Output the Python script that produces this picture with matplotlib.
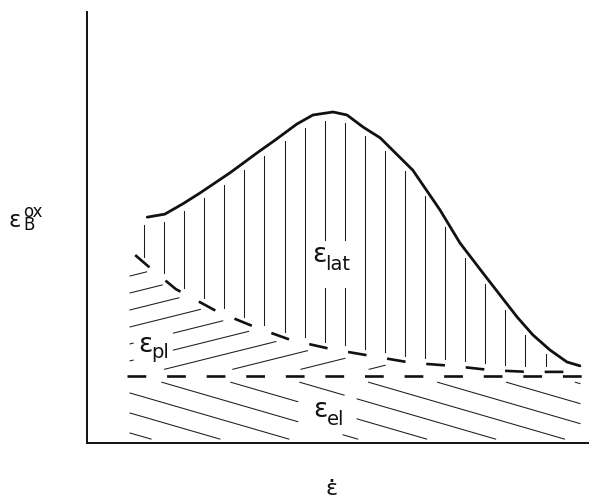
import numpy as np
import matplotlib
matplotlib.use('Agg')
import matplotlib.pyplot as plt

# total oxide strain vs strain rate (schematic units)
rate = [1.20, 1.55, 1.91, 2.25, 2.85, 3.41, 3.75, 4.18, 4.50, 4.90, 5.18, 5.50,
        5.84, 6.49, 7.03, 7.43, 7.89, 8.23, 8.57, 8.88, 9.22, 9.56, 9.82]
eps_total = [5.24, 5.31, 5.55, 5.80, 6.27, 6.75, 7.03, 7.40, 7.61, 7.68, 7.61, 7.33,
             7.08, 6.33, 5.41, 4.64, 3.94, 3.43, 2.92, 2.51, 2.16, 1.88, 1.79]

# elastic + plastic part (lower edge of the lateral growth region)
rate_pl = [0.96, 1.26, 1.77, 2.61, 3.39, 4.06, 4.86, 5.66, 6.47, 7.27, 8.05, 8.78, 9.82]
eps_pl = [4.36, 4.06, 3.57, 3.04, 2.67, 2.39, 2.18, 2.02, 1.86, 1.79, 1.69, 1.65, 1.65]

# elastic part, constant over the rate range
rate_el = [0.79, 9.86]
eps_el = [1.55, 1.55]

plt.rcParams['lines.scale_dashes'] = False
ink = '#111111'
hatch_kw = dict(color='#1c1c1c', lw=0.75, zorder=1)

fig = plt.figure(figsize=(5.89, 4.99), dpi=100)
ax = fig.add_axes([87 / 589, 56 / 499, 502 / 589, 431 / 499])
ax.set_xlim(0, 10)
ax.set_ylim(0, 10)
for side in ['top', 'right']:
    ax.spines[side].set_visible(False)
for side in ['left', 'bottom']:
    ax.spines[side].set_linewidth(1.4)
    ax.spines[side].set_color(ink)
ax.set_xticks([])
ax.set_yticks([])

# hatching is left open around the region labels
label_gaps = [(4.40, 5.50, 3.60, 4.71),
              (0.92, 1.72, 1.81, 2.55),
              (4.20, 5.38, 0.19, 1.11)]


def hatch(x, y):
    x = np.asarray(x, dtype=float)
    y = np.array(y, dtype=float)
    for x0, x1, y0, y1 in label_gaps:
        y[(x > x0) & (x < x1) & (y > y0) & (y < y1)] = np.nan
    ax.plot(x, y, **hatch_kw)


# boundaries
ax.plot(rate, eps_total, color=ink, lw=2.0, solid_capstyle='round', zorder=3)
ax.plot(rate_pl, eps_pl, color=ink, lw=1.9, dashes=(13.5, 15), zorder=3)
ax.plot(rate_el, eps_el, color=ink, lw=1.9, dashes=(13.5, 15), zorder=3)

# vertical hatching for the lateral part
for xv in np.arange(1.135, 9.83, 0.4):
    top = np.interp(xv, rate, eps_total) - 0.19
    bot = np.interp(xv, rate_pl, eps_pl) + 0.14
    if top - bot > 0.1:
        ys = np.linspace(bot, top, 300)
        hatch(np.full_like(ys, xv), ys)

xs = np.linspace(0.857, 9.82, 3000)

# rising hatch for the plastic part
upper = np.interp(xs, rate_pl, eps_pl)
for k in range(-13, 2):
    y = 3.875 + 0.394 * k + 0.29 * (xs - 0.857)
    hatch(xs, np.where((y > eps_el[0] + 0.16) & (y < upper - 0.16), y, np.nan))

# falling hatch for the elastic part
for k in range(-3, 9):
    y = 1.16 + 0.464 * k - 0.338 * (xs - 0.857)
    hatch(xs, np.where((y > 0.09) & (y < eps_el[0] - 0.14), y, np.nan))


def eps_label(x, y, sub='', sup='', size=19, small=14,
              sub_off=(9.5, -5.5), sup_off=(9.5, 7)):
    ax.text(x, y, 'ε', fontsize=size, ha='left', va='baseline', color=ink,
            clip_on=False)
    for txt, off in ((sub, sub_off), (sup, sup_off)):
        if txt:
            ax.annotate(txt, (x, y), xytext=off, textcoords='offset points',
                        fontsize=small, ha='left', va='baseline', color=ink,
                        annotation_clip=False)


# region labels
eps_label(4.48, 4.20, sub='lat')
eps_label(1.02, 2.11, sub='pl', sub_off=(9.5, -4.5))
eps_label(4.50, 0.60, sub='el', sub_off=(10, -6))

# axis symbols
eps_label(-1.57, 5.01, sub='B', sup='ox', size=16.5, small=12,
          sub_off=(10.8, -2.2), sup_off=(10.8, 7.2))
eps_label(4.76, -1.21, size=16)
ax.annotate('.', (4.76, -1.21), xytext=(3.8, 9.4), textcoords='offset points',
            fontsize=18, ha='center', va='baseline', color=ink,
            annotation_clip=False)

fig.savefig('out.png', dpi=100)
